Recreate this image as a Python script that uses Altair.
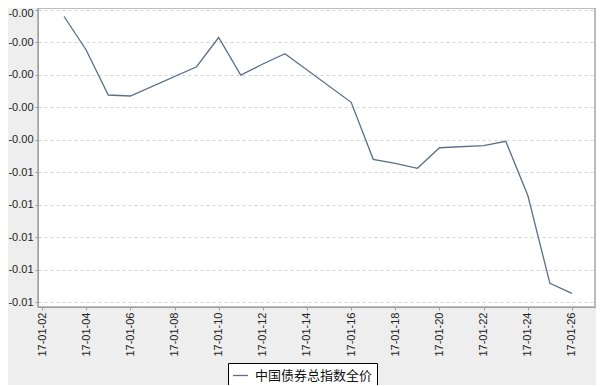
import altair as alt
import pandas as pd

dates = ["2017-01-03", "2017-01-04", "2017-01-05", "2017-01-06", "2017-01-09",
         "2017-01-10", "2017-01-11", "2017-01-12", "2017-01-13", "2017-01-16",
         "2017-01-17", "2017-01-18", "2017-01-19", "2017-01-20", "2017-01-22",
         "2017-01-23", "2017-01-24", "2017-01-25", "2017-01-26"]
values = [-0.000700, -0.001733, -0.003120, -0.003151, -0.002248,
          -0.001348, -0.002504, -0.002165, -0.001847, -0.003345,
          -0.005102, -0.005226, -0.005380, -0.004745, -0.004683,
          -0.004547, -0.006218, -0.008925, -0.009233]
series_name = "中国债券总指数全价"
y_ticks = [-0.0005, -0.0015, -0.0025, -0.0035, -0.0045,
           -0.0055, -0.0065, -0.0075, -0.0085, -0.0095]
x_tick_days = [2, 4, 6, 8, 10, 12, 14, 16, 18, 20, 22, 24, 26]

df = pd.DataFrame({"date": dates, "value": values, "series": [series_name] * len(dates)})

LINE = "#5b6e88"
FONT = "Liberation Sans"

x_ticks = [alt.DateTime(year=2017, month=1, date=d, utc=True) for d in x_tick_days]

chart = alt.Chart(df).mark_line(strokeWidth=1.3).encode(
    x=alt.X("date:T",
            scale=alt.Scale(type="utc", nice=False,
                            domain=[alt.DateTime(year=2017, month=1, date=1, hours=19, minutes=39, utc=True),
                                    alt.DateTime(year=2017, month=1, date=27, hours=1, minutes=0, utc=True)]),
            axis=alt.Axis(values=x_ticks, format="%y-%m-%d", labelAngle=-90, title=None,
                          grid=False, tickSize=3, labelPadding=2, labelFontSize=11,
                          labelFont=FONT, labelColor="#222222", domainColor="#a0a0a0",
                          tickColor="#a0a0a0", labelOverlap=False)),
    y=alt.Y("value:Q",
            scale=alt.Scale(domain=[-0.009654, -0.000438], nice=False, zero=False),
            axis=alt.Axis(values=y_ticks, labelExpr="'-' + format(abs(datum.value), '.2f')",
                          title=None, grid=True, gridDash=[3, 3], gridColor="#d4d4d4",
                          tickSize=3, labelPadding=2, labelFontSize=11, labelFont=FONT,
                          labelColor="#222222", domainColor="#a0a0a0", tickColor="#a0a0a0",
                          labelOverlap=False,
                          labelOffset={"condition": {"test": "datum.value > -0.001", "value": 3}, "value": 0})),
    color=alt.Color("series:N", scale=alt.Scale(range=[LINE]),
                    legend=alt.Legend(orient="none", legendX=190, legendY=355, title=None,
                                      strokeColor="black", fillColor="white", padding=4,
                                      symbolType="stroke", symbolSize=225, symbolStrokeWidth=1.3,
                                      labelFont="Noto Sans CJK SC", labelFontSize=13,
                                      labelColor="#111111", labelOffset=6)),
).properties(
    width=557, height=299,
    background="#eeeeee",
    padding={"left": 30, "top": 0, "right": 1, "bottom": 78},
    autosize=alt.AutoSizeParams(type="none"),
).configure_view(
    fill="white", stroke="#a8a8a8", strokeWidth=1.5
)

chart.save("out.html", embed_options={"renderer": "svg", "actions": False})
